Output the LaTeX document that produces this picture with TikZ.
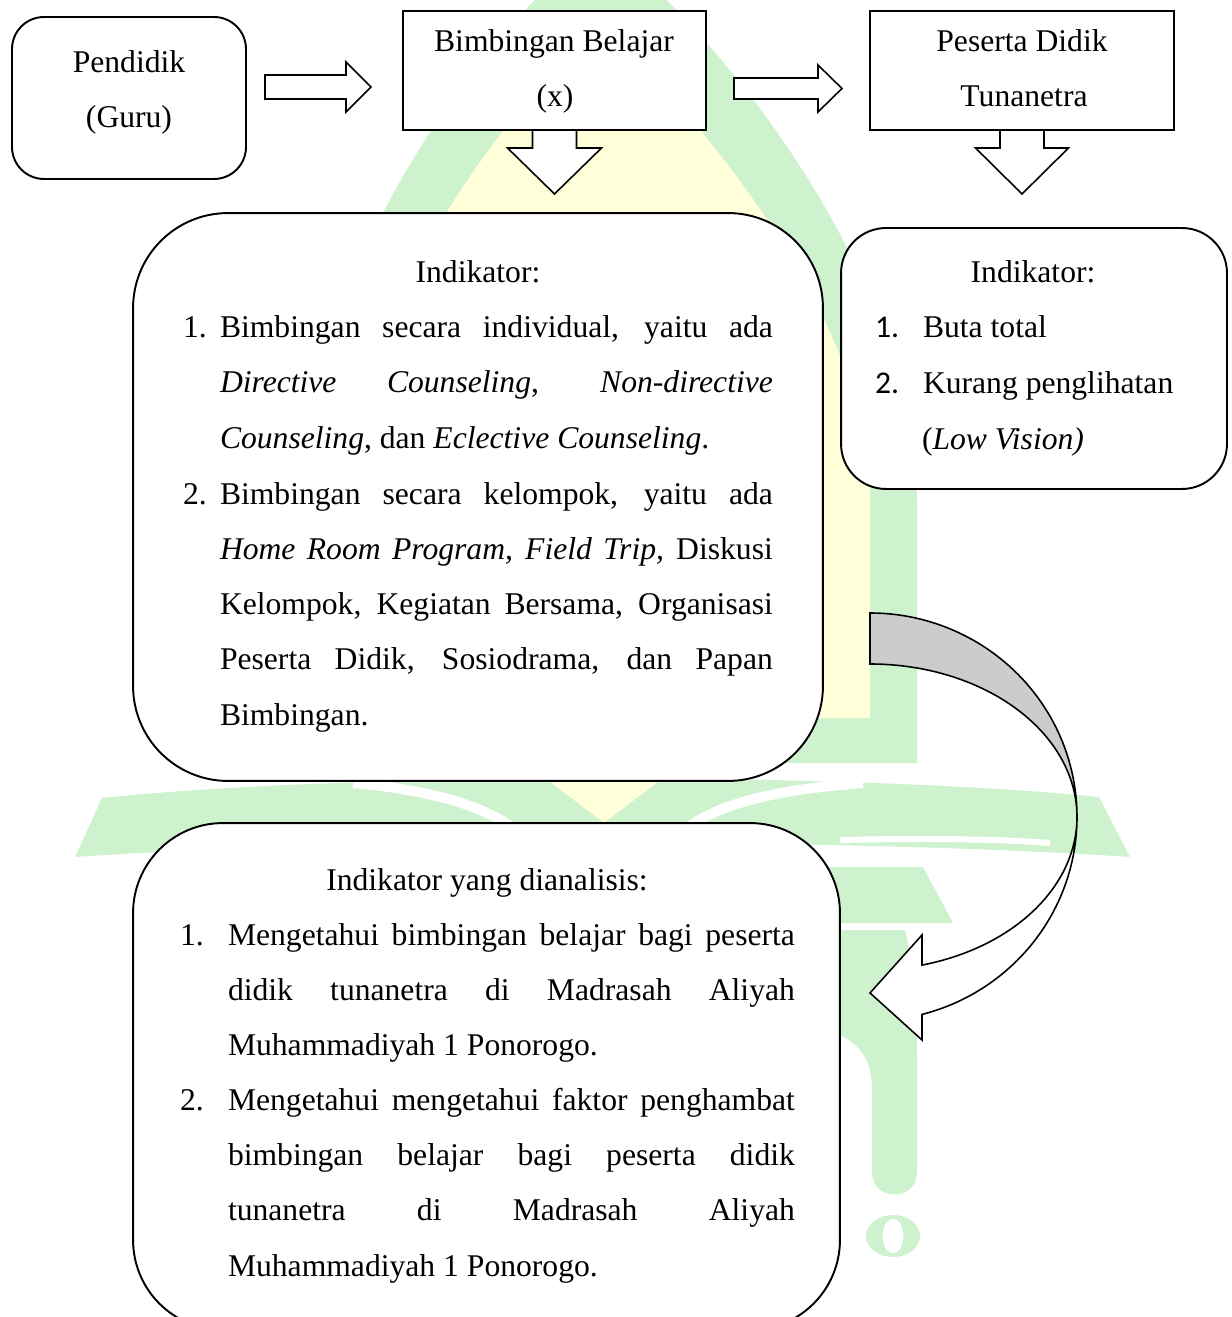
\documentclass[tikz,border=0pt]{standalone}
\usepackage{fontspec}
\setmainfont{Liberation Serif}
\newfontfamily\calfont{Carlito}
\usetikzlibrary{calc}
\definecolor{wmgreen}{RGB}{206,242,206}
\definecolor{wmyellow}{RGB}{255,255,217}
\definecolor{backgray}{RGB}{204,204,204}
\begin{document}
\begin{tikzpicture}[x=0.02cm,y=-0.02cm,
 box/.style={draw=black,line width=1.1pt,fill=white,inner sep=0pt,outer sep=0pt},
 blk/.style={draw=black,line width=0.9pt,fill=white,line join=miter},
 tx/.style={inner sep=0pt,outer sep=0pt,font=\fontsize{18}{31}\selectfont},
 tl/.style={tx,anchor=base west},
 tc/.style={tx,anchor=base},
 wmg/.style={fill=wmgreen,draw=none},
 wmy/.style={fill=wmyellow,draw=none}]
\useasboundingbox (0,0) rectangle (1231,1317);
\clip (0,0) rectangle (1231,1317);
% ---------- watermark (faint logo) ----------
\path[wmg] (303,763) -- (303,500) .. controls (303,300) and (450,60) .. (600,-60) .. controls (750,60) and (917,300) .. (917,500) -- (917,763) -- cycle;
\path[wmy] (350,718) -- (350,500) .. controls (350,320) and (490,130) .. (600,20) .. controls (710,130) and (870,320) .. (870,500) -- (870,718) -- cycle;
\path[wmg] (75,857) -- (102,798) .. controls (350,772) and (850,772) .. (1099,797) -- (1130,857) .. controls (850,838) and (350,838) .. (75,857) -- cycle;
\draw[white,line width=0.2cm] (353,783) .. controls (430,790) and (480,805) .. (510,826);
\draw[white,line width=0.2cm] (690,826) .. controls (720,805) and (770,790) .. (863,783);
\path[wmy] (549,781) -- (659,781) -- (604,823) -- cycle;
\draw[white,line width=0.12cm] (840,840) .. controls (920,838) and (1000,839) .. (1050,843);
\path[wmg] (800,867) -- (923,867) -- (953,923) -- (800,923) -- cycle;
\path[wmg] (840,930) -- (905,930) .. controls (915,970) and (917,1010) .. (917,1060) -- (917,1172) .. controls (917,1202) and (872,1202) .. (872,1172) -- (872,1090) .. controls (872,1060) and (860,1045) .. (840,1035) -- cycle;
\path[wmg,even odd rule] (893,1236) ellipse [x radius=0.54cm, y radius=0.42cm] (893,1236) ellipse [x radius=0.21cm, y radius=0.35cm];
% ---------- box nodes (shapes only) ----------
\path (129,98) node[minimum width=4.68cm,minimum height=3.24cm,inner sep=0pt,outer sep=0pt] (guru) {};
\path (554.5,70.5) node[minimum width=6.06cm,minimum height=2.38cm,inner sep=0pt,outer sep=0pt] (bimb) {};
\path (1022,70.5) node[minimum width=6.08cm,minimum height=2.38cm,inner sep=0pt,outer sep=0pt] (pes) {};
\path (1034,358.5) node[minimum width=7.72cm,minimum height=5.22cm,inner sep=0pt,outer sep=0pt] (ind2) {};
% ---------- connectors (block arrows) ----------
\coordinate (a1) at ($(guru.east)+(19,-11)$);
\coordinate (a2) at ($(bimb.east)+(28,18)$);
\coordinate (d1) at (bimb.south);
\coordinate (d2) at (pes.south);
\coordinate (ce) at ($(ind2.south)+(-164,328)$);
\draw[blk,shift={(a1)}] (0,-12) -- (81,-12) -- (81,-25) -- (106,0) -- (81,25) -- (81,12) -- (0,12) -- cycle;
\draw[blk,shift={(a2)}] (0,-10.5) -- (84,-10.5) -- (84,-23.5) -- (108,0) -- (84,23.5) -- (84,10.5) -- (0,10.5) -- cycle;
\draw[blk,shift={(d1)}] (-22,0) -- (-22,18) -- (-47,18) -- (0,64) -- (47,18) -- (22,18) -- (22,0);
\draw[blk,shift={(d2)}] (-22,0) -- (-22,18) -- (-46.5,18) -- (0,64) -- (46.5,18) -- (22,18) -- (22,0);
\draw[blk,fill=backgray,shift={(ce)}] plot[domain=90:0,samples=50] ({207*cos(\x)},{-204*sin(\x)}) -- plot[domain=0:90,samples=50] ({207*cos(\x)},{-153*sin(\x)}) -- cycle;
\draw[blk,shift={(ce)}] plot[domain=0:-75.45,samples=50] ({207*cos(\x)},{-204*sin(\x)}) -- (52,223) -- (0,176) -- (52,118) -- (52,148) -- plot[domain=-75.45:0,samples=50] ({207*cos(\x)},{-153*sin(\x)}) -- cycle;
% ---------- boxes ----------
\node[box,rounded corners=0.64cm,minimum width=4.68cm,minimum height=3.24cm] (guruB) at (guru) {};
\node[box,minimum width=6.06cm,minimum height=2.38cm] (bimbB) at (bimb) {};
\node[box,minimum width=6.08cm,minimum height=2.38cm] (pesB) at (pes) {};
\node[box,rounded corners=1.9cm,minimum width=13.8cm,minimum height=11.36cm] (ind1) at (478,497) {};
\node[box,rounded corners=0.9cm,minimum width=7.72cm,minimum height=5.22cm] (ind2B) at (ind2) {};
\node[box,rounded corners=1.8cm,minimum width=14.14cm,minimum height=10.14cm] (anal) at (486.5,1076.5) {};
% ---------- texts: top boxes ----------
\node[tc] (g1) at (129,73) {Pendidik};
\node[tc] (g2) at (129,128) {(Guru)};
\node[tc] (bb1) at (554,52) {Bimbingan Belajar};
\node[tc] (bb2) at (555,107) {(x)};
\node[tc] (p1) at (1022,52) {Peserta Didik};
\node[tc] (p2) at (1024,107) {Tunanetra};
% ---------- main indicator box ----------
\node[tc] (m0) at (478,283) {Indikator:};
\node[tl] (mn1) at (183,338) {1.};
\node[tl] (m1) at (220,338) {\makebox[11.06cm][s]{Bimbingan secara individual, yaitu ada}};
\node[tl] (m2) at (220,393) {\makebox[11.06cm][s]{\textit{Directive Counseling}, \textit{Non-directive}}};
\node[tl] (m3) at (220,448) {\textit{Counseling}, dan \textit{Eclective Counseling}.};
\node[tl] (mn2) at (183,504) {2.};
\node[tl] (m4) at (220,504) {\makebox[11.06cm][s]{Bimbingan secara kelompok, yaitu ada}};
\node[tl] (m5) at (220,559) {\makebox[11.06cm][s]{\textit{Home Room Program, Field Trip,} Diskusi}};
\node[tl] (m6) at (220,614) {\makebox[11.06cm][s]{Kelompok, Kegiatan Bersama, Organisasi}};
\node[tl] (m7) at (220,669) {\makebox[11.06cm][s]{Peserta Didik, Sosiodrama, dan Papan}};
\node[tl] (m8) at (220,725) {Bimbingan.};
% ---------- right indicator box ----------
\node[tc] (r0) at (1033,283) {Indikator:};
\node[tl] (rn1) at (875,338) {\calfont 1.};
\node[tl] (r1) at (923,338) {Buta total};
\node[tl] (rn2) at (875,394) {\calfont 2.};
\node[tl] (r2) at (923,394) {Kurang penglihatan};
\node[tl] (r3) at (922,449) {(\textit{Low Vision)}};
% ---------- bottom box ----------
\node[tc] (b0) at (487,890) {Indikator yang dianalisis:};
\node[tl] (bn1) at (180,945) {1.};
\node[tl] (b1) at (228,945) {\makebox[11.34cm][s]{Mengetahui bimbingan belajar bagi peserta}};
\node[tl] (b2) at (228,1000) {\makebox[11.34cm][s]{didik tunanetra di Madrasah Aliyah}};
\node[tl] (b3) at (228,1055) {Muhammadiyah 1 Ponorogo.};
\node[tl] (bn2) at (180,1110) {2.};
\node[tl] (b4) at (228,1110) {\makebox[11.34cm][s]{Mengetahui mengetahui faktor penghambat}};
\node[tl] (b5) at (228,1165) {\makebox[11.34cm][s]{bimbingan belajar bagi peserta didik}};
\node[tl] (b6) at (228,1220) {\makebox[11.34cm][s]{tunanetra di Madrasah Aliyah}};
\node[tl] (b7) at (228,1276) {Muhammadiyah 1 Ponorogo.};
\end{tikzpicture}
\end{document}
